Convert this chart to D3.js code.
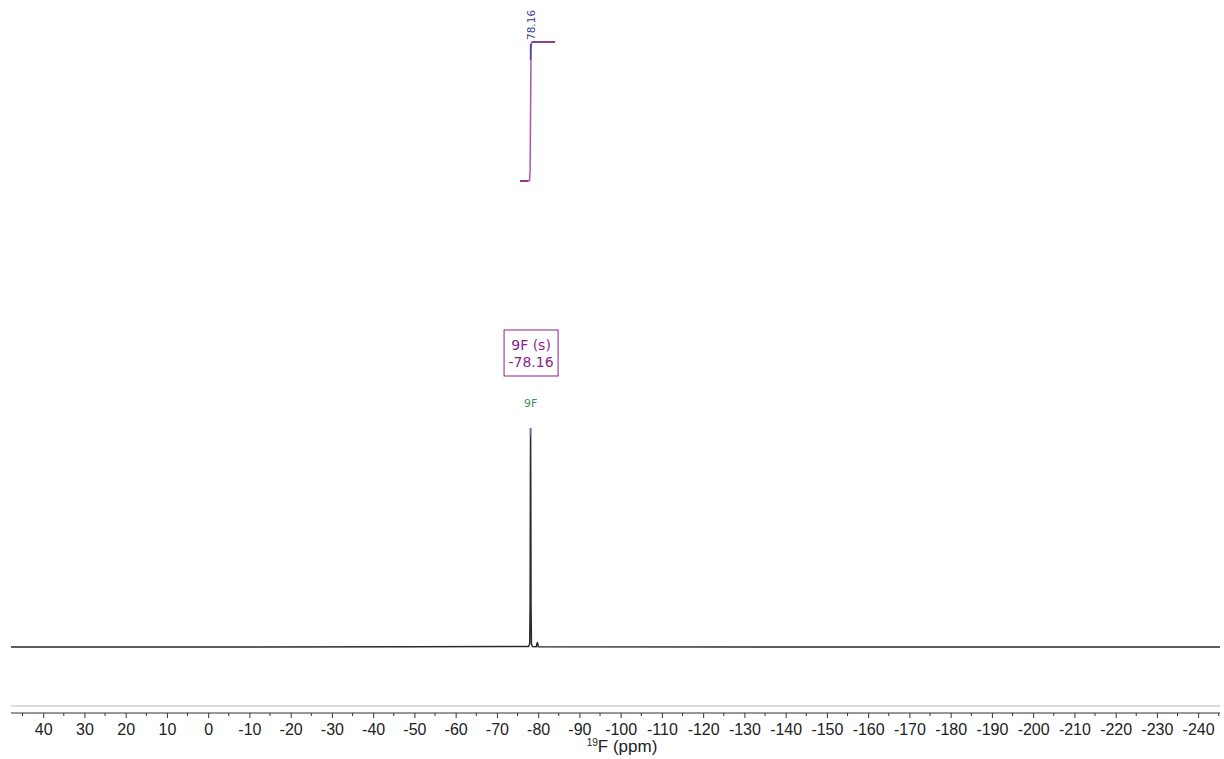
<!DOCTYPE html>
<html>
<head>
<meta charset="utf-8">
<script src="https://cdn.jsdelivr.net/npm/d3@7"></script>
<style>
  html, body { margin: 0; padding: 0; background: #fff; }
  svg { display: block; }
</style>
</head>
<body>
<svg id="chart" width="1224" height="759"></svg>
<script>
// 19F NMR spectrum: chemical shift (ppm) vs. intensity (relative %)
const spectrumPpm = [47.8, 0, -50, -77.7, -77.95, -78.05, -78.12, -78.16, -78.2, -78.27, -78.37, -78.6, -79.55, -79.7, -79.8, -79.9, -80.05, -150, -245.3];
const spectrumInt = [0, 0, 0.1, 0.2, 1.5, 20, 80, 100, 80, 20, 1.5, 0.2, 0.1, 1.6, 1.9, 1.6, 0.1, 0, 0];

// Integral trace over the multiplet region (normalised 0..1)
const integralPpm = [-75.6, -77.9, -78.05, -78.12, -78.16, -78.2, -78.27, -78.4, -84.1];
const integralVal = [0, 0.002, 0.08, 0.35, 0.5, 0.65, 0.93, 1, 1];
const integralLabel = "78.16";

// Multiplet annotation
const multipletLines = ["9F (s)", "-78.16"];
const multipletPpm = -78.16;
const peakLabel = "9F";

// Axis ticks
const majorTicks = d3.range(40, -241, -10);
const minorTicks = d3.range(45, -246, -5).filter(v => v % 10 !== 0);

const svg = d3.select("#chart");

const x = d3.scaleLinear().domain([47.8, -245.3]).range([11, 1220]);
const y = d3.scaleLinear().domain([0, 100]).range([647, 428]);
const yInt = d3.scaleLinear().domain([0, 1]).range([181, 42]);

// light rule above the axis
svg.append("line")
  .attr("x1", x.range()[0]).attr("x2", x.range()[1])
  .attr("y1", 706).attr("y2", 706)
  .attr("stroke", "#dcdcdc").attr("stroke-width", 2);

// spectrum trace
const spec = spectrumPpm.map((p, i) => [p, spectrumInt[i]]);
svg.append("path")
  .datum(spec)
  .attr("fill", "none")
  .attr("stroke", "#2a2a2a")
  .attr("stroke-width", 1.5)
  .attr("d", d3.line().x(d => x(d[0])).y(d => y(d[1])));

// peak top tint
svg.append("line")
  .attr("x1", x(-78.16)).attr("x2", x(-78.16))
  .attr("y1", y(100)).attr("y2", y(96.5))
  .attr("stroke", "#6a6ac8").attr("stroke-width", 1.5);

// integral curve
const integ = integralPpm.map((p, i) => [p, integralVal[i]]);
svg.append("path")
  .datum(integ)
  .attr("fill", "none")
  .attr("stroke", "#b050b8")
  .attr("stroke-width", 1.5)
  .attr("d", d3.line().x(d => x(d[0])).y(d => yInt(d[1])));
// integral end caps
svg.append("line")
  .attr("x1", x(integralPpm[0])).attr("x2", x(-77.6))
  .attr("y1", yInt(0)).attr("y2", yInt(0))
  .attr("stroke", "#7a1f7a").attr("stroke-width", 1.5);
svg.append("line")
  .attr("x1", x(-78.6)).attr("x2", x(integralPpm[integralPpm.length - 1]))
  .attr("y1", yInt(1)).attr("y2", yInt(1))
  .attr("stroke", "#6a1a6a").attr("stroke-width", 1.2);

// peak pick leader and label
svg.append("line")
  .attr("x1", x(-78.16)).attr("x2", x(-78.16))
  .attr("y1", yInt(1) + 2).attr("y2", yInt(0.87))
  .attr("stroke", "#4a4aa8").attr("stroke-width", 1.5);
svg.append("text")
  .attr("transform", `translate(${x(-78.16) + 4},${yInt(1) - 2}) rotate(-90)`)
  .attr("font-family", "'DejaVu Sans', Verdana, sans-serif")
  .attr("font-size", 10.5)
  .attr("fill", "#3a3a9a")
  .text(integralLabel);

// multiplet box
const boxCx = x(multipletPpm);
const box = svg.append("g");
box.append("rect")
  .attr("x", boxCx - 26.5).attr("y", 330)
  .attr("width", 54).attr("height", 46)
  .attr("fill", "#fff").attr("stroke", "#8b1f8b").attr("stroke-width", 1);
multipletLines.forEach((t, i) => {
  box.append("text")
    .attr("x", boxCx + 0.5).attr("y", 350 + i * 17)
    .attr("text-anchor", "middle")
    .attr("font-family", "'DejaVu Sans', Verdana, sans-serif")
    .attr("font-size", 14)
    .attr("fill", "#8b1f8b")
    .text(t);
});

svg.append("text")
  .attr("x", boxCx).attr("y", 407)
  .attr("text-anchor", "middle")
  .attr("font-family", "'DejaVu Sans', Verdana, sans-serif")
  .attr("font-size", 11)
  .attr("fill", "#3f8f5f")
  .text(peakLabel);

// x axis
const axisG = svg.append("g").attr("transform", "translate(0,713)");
axisG.append("line")
  .attr("x1", x.range()[0]).attr("x2", x.range()[1])
  .attr("stroke", "#333").attr("stroke-width", 1);
axisG.selectAll(".minor").data(minorTicks).join("line")
  .attr("x1", d => x(d)).attr("x2", d => x(d))
  .attr("y1", 0).attr("y2", 3)
  .attr("stroke", "#333");
const major = d3.axisBottom(x)
  .tickValues(majorTicks)
  .tickSize(5)
  .tickSizeOuter(0)
  .tickFormat(d => String(d));
const ax = axisG.append("g").call(major);
ax.select(".domain").remove();
ax.selectAll(".tick line").attr("stroke", "#333");
ax.selectAll(".tick text")
  .attr("font-family", "'Liberation Sans', Arial, sans-serif")
  .attr("font-size", 16)
  .attr("fill", "#222")
  .attr("dy", 0)
  .attr("y", 22);

const title = svg.append("text")
  .attr("x", 622).attr("y", 752)
  .attr("text-anchor", "middle")
  .attr("font-family", "'Liberation Sans', Arial, sans-serif")
  .attr("font-size", 17)
  .attr("fill", "#222");
title.append("tspan").attr("font-size", 10).attr("dy", -6).text("19");
title.append("tspan").attr("dy", 6).text("F (ppm)");
</script>
</body>
</html>
